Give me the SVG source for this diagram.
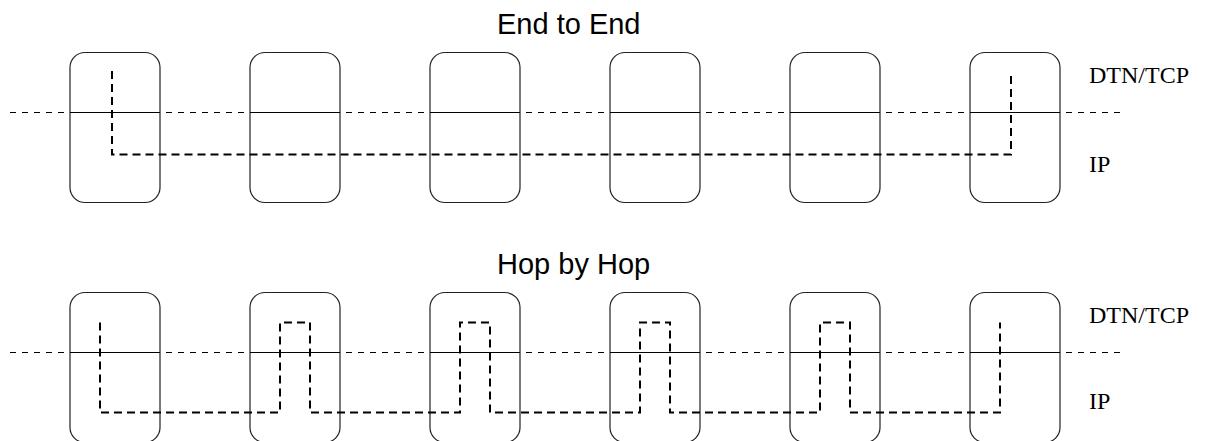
<svg xmlns="http://www.w3.org/2000/svg" width="1209" height="441" viewBox="0 0 1209 441">
  <style>
    .title { font-family: "Liberation Sans", Arial, sans-serif; font-size: 29px; fill: #000; }
    .layer { font-family: "Liberation Serif", "Times New Roman", serif; font-size: 24px; fill: #000; }
    .box { fill: none; stroke: #222; stroke-width: 1.2; }
    .divider { stroke: #000; stroke-width: 1.2; }
    .boundary { stroke: #000; stroke-width: 1; stroke-dasharray: 6 6; fill: none; }
    .flow { fill: none; stroke: #000; stroke-width: 2; stroke-dasharray: 8 5; }
  </style>
  <defs>
    <!-- one protocol-stack node: rounded box split into upper and lower layer -->
    <g id="stack">
      <rect class="box" x="0" y="0" width="90" height="150" rx="15" ry="15"/>
      <line class="divider" x1="0" y1="60" x2="90" y2="60"/>
    </g>
  </defs>

  <rect width="1209" height="441" fill="#fff"/>

  <!-- End to End -->
  <text class="title" x="497" y="34">End to End</text>
  <line class="boundary" x1="10" y1="112.5" x2="1120" y2="112.5"/>
  <g id="e2e-node1"><use href="#stack" x="70" y="52.5"/></g>
  <g id="e2e-node2"><use href="#stack" x="250" y="52.5"/></g>
  <g id="e2e-node3"><use href="#stack" x="430" y="52.5"/></g>
  <g id="e2e-node4"><use href="#stack" x="610" y="52.5"/></g>
  <g id="e2e-node5"><use href="#stack" x="790" y="52.5"/></g>
  <g id="e2e-node6"><use href="#stack" x="970" y="52.5"/></g>
  <text class="layer" x="1089" y="83">DTN/TCP</text>
  <text class="layer" x="1089" y="172">IP</text>

  <!-- Hop by Hop -->
  <text class="title" x="497" y="274">Hop by Hop</text>
  <line class="boundary" x1="10" y1="352.5" x2="1120" y2="352.5"/>
  <g id="hop-node1"><use href="#stack" x="70" y="292.5"/></g>
  <g id="hop-node2"><use href="#stack" x="250" y="292.5"/></g>
  <g id="hop-node3"><use href="#stack" x="430" y="292.5"/></g>
  <g id="hop-node4"><use href="#stack" x="610" y="292.5"/></g>
  <g id="hop-node5"><use href="#stack" x="790" y="292.5"/></g>
  <g id="hop-node6"><use href="#stack" x="970" y="292.5"/></g>
  <text class="layer" x="1089" y="323">DTN/TCP</text>
  <text class="layer" x="1089" y="409">IP</text>

  <!-- data paths through the stacks -->
  <g id="connectors">
    <path class="flow" d="M112,71 V154.5 H1011 V73"/>
    <path class="flow" d="M100,322.5 V412.5 H280 V322.5 H310 V412.5 H460 V322.5 H490 V412.5 H640 V322.5 H670 V412.5 H820 V322.5 H850 V412.5 H1000 V322.5"/>
  </g>
</svg>
